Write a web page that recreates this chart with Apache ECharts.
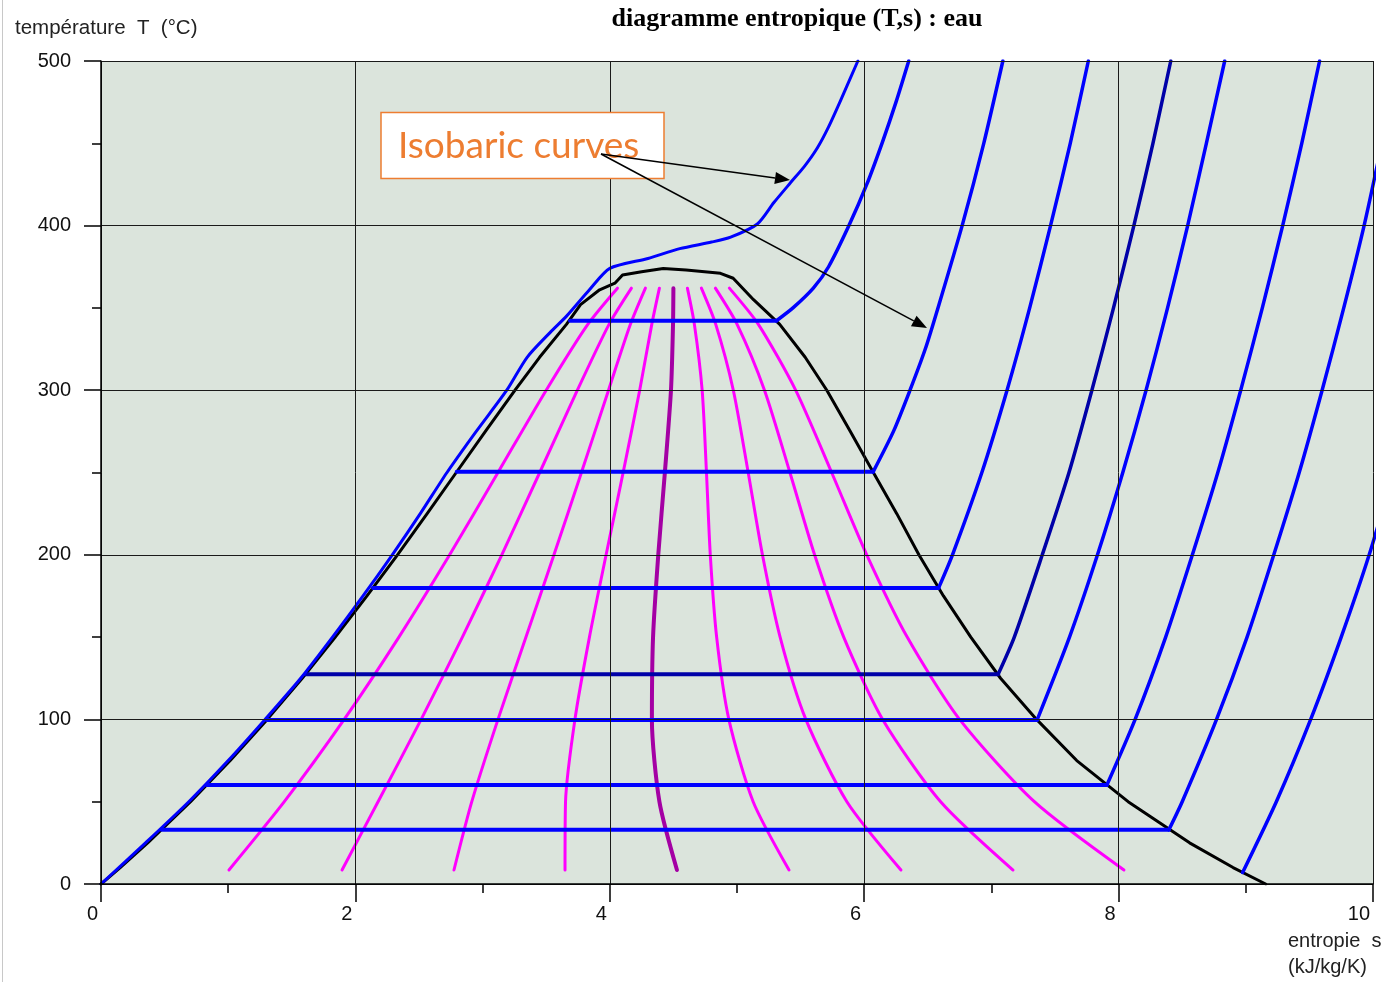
<!DOCTYPE html>
<html>
<head>
<meta charset="utf-8">
<script src="https://cdn.jsdelivr.net/npm/echarts@6/dist/echarts.min.js"></script>
<style>
html,body{margin:0;padding:0;background:#fff;}
#c{width:1393px;height:982px;}
</style>
</head>
<body>
<div id="c"></div>
<script>
// ---- axis ticks ----
const sTicks = [0, 2, 4, 6, 8, 10];
const tTicks = [0, 100, 200, 300, 400, 500];

// ---- saturation dome [s (kJ/kg/K), T (°C)] ----
const dome = [[0,0],[0.151,10],[0.367,25],[0.704,50],[1.016,75],[1.307,100],[1.582,125],[1.842,150],[2.091,175],[2.331,200],[2.564,225],[2.793,250],[3.022,275],[3.255,300],[3.448,320],[3.659,340],[3.77,352],[3.92,361],[4.04,365],[4.10,370],[4.25,372],[4.42,374],[4.60,373],[4.87,371],[4.97,368],[5.13,355],[5.336,340],[5.536,320],[5.706,300],[5.890,275],[6.072,250],[6.256,225],[6.430,200],[6.623,175],[6.838,150],[7.072,125],[7.355,100],[7.671,75],[8.075,50],[8.558,25],[8.900,10],[9.156,0]];

// ---- isobars ----
const p25MPa = [[0,0],[0.35,25],[0.69,50],[1.00,75],[1.29,100],[1.57,125],[1.82,150],[2.06,175],[2.29,200],[2.51,225],[2.72,250],[2.95,275],[3.19,300],[3.35,320],[3.53,335],[3.66,345],[3.84,361],[4.00,374],[4.30,380],[4.55,386],[4.80,390],[4.95,393],[5.16,401],[5.29,414],[5.42,426],[5.53,436],[5.63,447],[5.72,460],[5.82,477],[5.95,500]];
const p15MPa = [[3.687,342.2],[5.31,342.2],[5.44,350],[5.60,362],[5.72,375],[5.88,400],[6.02,425],[6.14,450],[6.25,475],[6.35,500]];
const p4MPa = [[2.797,250.4],[6.070,250.4],[6.23,275],[6.36,300],[6.48,325],[6.58,350],[6.77,400],[6.94,450],[7.09,500]];
const p1MPa = [[2.139,179.9],[6.585,179.9],[6.694,200],[6.925,250],[7.123,300],[7.301,350],[7.465,400],[7.62,450],[7.762,500]];
const p025MPa = [[1.607,127.4],[7.053,127.4],[7.18,150],[7.40,200],[7.61,250],[7.79,300],[7.96,350],[8.12,400],[8.27,450],[8.41,500]];
const p01MPa = [[1.303,99.6],[7.359,99.6],[7.614,150],[7.834,200],[8.033,250],[8.216,300],[8.385,350],[8.543,400],[8.69,450],[8.834,500]];
const p002MPa = [[0.832,60.1],[7.908,60.1],[8.13,100],[8.37,150],[8.58,200],[8.78,250],[8.96,300],[9.13,350],[9.29,400],[9.44,450],[9.58,500]];
const p0005MPa = [[0.476,32.9],[8.395,32.9],[8.50,50],[8.77,100],[9.01,150],[9.22,200],[9.42,250],[9.60,300],[9.77,350],[9.93,400],[10.07,450]];
const p0001MPa = [[8.975,7.0],[9.24,50],[9.51,100],[9.75,150],[9.97,200],[10.16,250]];

// ---- constant-quality lines ----
const q1 = [[1.006,8.5],[1.441,50],[1.912,100],[2.342,150],[2.741,200],[3.121,250],[3.500,300],[3.827,340],[4.06,362]];
const q2 = [[1.895,8.5],[2.178,50],[2.517,100],[2.841,150],[3.151,200],[3.449,250],[3.745,300],[3.994,340],[4.17,362]];
const q3 = [[2.775,8.5],[2.915,50],[3.121,100],[3.341,150],[3.561,200],[3.777,250],[3.990,300],[4.162,340],[4.28,362]];
const q4 = [[3.648,8.5],[3.652,50],[3.726,100],[3.840,150],[3.971,200],[4.105,250],[4.235,300],[4.330,340],[4.39,362]];
const q5 = [[4.528,8.5],[4.390,50],[4.331,100],[4.340,150],[4.381,200],[4.433,250],[4.481,300],[4.497,340],[4.50,362]];
const q6 = [[5.409,8.5],[5.127,50],[4.936,100],[4.840,150],[4.790,200],[4.760,250],[4.726,300],[4.665,340],[4.61,362]];
const q7 = [[6.289,8.5],[5.864,50],[5.541,100],[5.339,150],[5.200,200],[5.088,250],[4.971,300],[4.833,340],[4.72,362]];
const q8 = [[7.170,8.5],[6.601,50],[6.145,100],[5.839,150],[5.610,200],[5.416,250],[5.216,300],[5.001,340],[4.83,362]];
const q9 = [[8.042,8.5],[7.338,50],[6.750,100],[6.338,150],[6.020,200],[5.744,250],[5.461,300],[5.168,340],[4.94,362]];

const qualityLines = [q1,q2,q3,q4,q5,q6,q7,q8,q9];
const isobars = [
  {d:p15MPa, c:'#0000ff'},
  {d:p4MPa, c:'#0000ff'},
  {d:p1MPa, c:'#0000ff'},
  {d:p025MPa, c:'#0000a8'},
  {d:p01MPa, c:'#0000ff'},
  {d:p002MPa, c:'#0000ff'},
  {d:p0005MPa, c:'#0000ff'},
  {d:p0001MPa, c:'#0000ff'}
];

function line(data, color, width, z, smooth) {
  return {type:'line', data:data, showSymbol:false, symbol:'none',
    smooth: smooth ? 0.25 : false, clip:true,
    silent:true, animation:false, z:z, lineStyle:{color:color, width:width, cap:'round', join:'round'}};
}

const series = [];
qualityLines.forEach((q,i) => {
  series.push(i === 4 ? line(q, '#a400a4', 4, 2, true) : line(q, '#ff00ff', 3, 2, true));
});
series.push(line(dome, '#000000', 3, 3, false));
isobars.forEach(p => {
  const d = p.d;
  if (d.length > 1 && d[0][1] === d[1][1]) {
    series.push(line(d.slice(0, 2), p.c, 4, 4, false));
    series.push(line(d.slice(1), p.c, 3.5, 4, true));
  } else {
    series.push(line(d, p.c, 3.5, 4, true));
  }
});
series.push(line(p25MPa, '#0000ff', 3, 4, true));

const chart = echarts.init(document.getElementById('c'), null, {renderer:'canvas'});

const font = '"Liberation Sans", Arial, sans-serif';

function arrow(x1,y1,x2,y2){
  const dx=x2-x1, dy=y2-y1, L=Math.sqrt(dx*dx+dy*dy);
  const ux=dx/L, uy=dy/L, nx=-uy, ny=ux, hl=15, hw=6;
  const bx=x2-ux*hl, by=y2-uy*hl;
  return [
    {type:'line', z:30, shape:{x1:x1,y1:y1,x2:bx,y2:by}, style:{stroke:'#000', lineWidth:1.5}},
    {type:'polygon', z:30, shape:{points:[[x2,y2],[bx+nx*hw,by+ny*hw],[bx-nx*hw,by-ny*hw]]}, style:{fill:'#000'}}
  ];
}

chart.setOption({
  animation:false,
  backgroundColor:'#ffffff',
  grid:{left:101, right:20, top:61, bottom:98, show:true, backgroundColor:'#dbe4dc', borderWidth:0, outerBoundsMode:'none'},
  xAxis:{
    type:'value', min:sTicks[0], max:sTicks[sTicks.length-1], interval:sTicks[1]-sTicks[0], z:5,
    axisLine:{show:true, onZero:false, lineStyle:{color:'#000', width:1.5}},
    axisTick:{show:true, length:18, lineStyle:{color:'#000', width:1.5}},
    minorTick:{show:true, splitNumber:2, length:9, lineStyle:{color:'#000', width:1.5}},
    splitLine:{show:true, lineStyle:{color:'#1a1a1a', width:1}},
    axisLabel:{fontSize:20, color:'#111', fontFamily:font, margin:20, align:'right', padding:[0,3,0,0]}
  },
  yAxis:{
    type:'value', min:tTicks[0], max:tTicks[tTicks.length-1], interval:tTicks[1]-tTicks[0], z:5,
    axisLine:{show:true, onZero:false, lineStyle:{color:'#000', width:1.5}},
    axisTick:{show:true, length:17, lineStyle:{color:'#000', width:1.5}},
    minorTick:{show:true, splitNumber:2, length:9, lineStyle:{color:'#000', width:1.5}},
    splitLine:{show:true, lineStyle:{color:'#1a1a1a', width:1}},
    axisLabel:{fontSize:20, color:'#111', fontFamily:font, margin:30}
  },
  series:series,
  graphic:[
    {type:'line', z:1, shape:{x1:2.5,y1:0,x2:2.5,y2:982}, style:{stroke:'#c8c8c8', lineWidth:1}},
    {type:'text', z:20, x:797, y:19, style:{text:'diagramme entropique (T,s) : eau', font:'bold 26px "Liberation Serif", "Times New Roman", serif', fill:'#000', align:'center', verticalAlign:'middle'}},
    {type:'text', z:20, x:15, y:28, style:{text:'température  T  (°C)', font:'20.5px ' + font, fill:'#222', align:'left', verticalAlign:'middle'}},
    {type:'text', z:20, x:1288, y:941, style:{text:'entropie  s', font:'20px ' + font, fill:'#222', align:'left', verticalAlign:'middle'}},
    {type:'text', z:20, x:1288, y:967, style:{text:'(kJ/kg/K)', font:'20px ' + font, fill:'#222', align:'left', verticalAlign:'middle'}},
    {type:'rect', z:25, shape:{x:381, y:112.5, width:283, height:66}, style:{fill:'#ffffff', stroke:'#ed7d31', lineWidth:1.5}},
    {type:'text', z:26, x:398, y:146, style:{text:'Isobaric curves', font:'37px Lato, "Open Sans", sans-serif', fill:'#ed7d31', align:'left', verticalAlign:'middle'}}
  ].concat(arrow(601,154,790,180)).concat(arrow(601,154,927,328))
});
</script>
</body>
</html>
